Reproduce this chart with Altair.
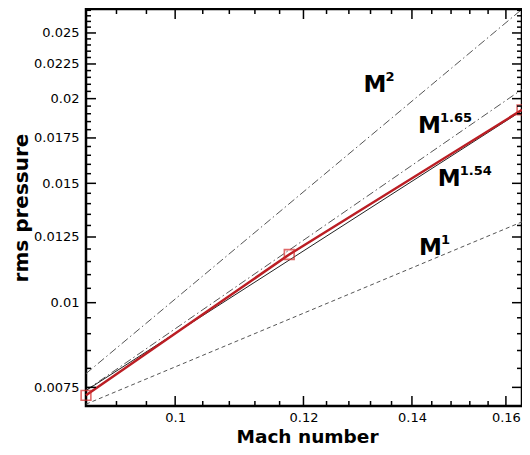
import altair as alt
import pandas as pd

# measured data
mach = [0.0881, 0.1176, 0.1637]
p_rms = [0.0073, 0.01178, 0.01925]

# reference power-law lines (end points)
ref_x = [0.0881, 0.1637]
ref_m2 = [0.00786, 0.0271]
ref_m165 = [0.007425, 0.02064]
ref_m154 = [0.00742, 0.0192]
ref_m1 = [0.007084, 0.01316]

# label anchors
lab_x = [0.1307, 0.1412, 0.14522, 0.1414]
lab_y = [0.02046, 0.01777, 0.014877, 0.011759]
lab_exp = ["2", "1.65", "1.54", "1"]

# ticks
x_major = [0.1, 0.12, 0.14, 0.16]
x_minor = [0.092, 0.096, 0.104, 0.108, 0.112, 0.116, 0.124, 0.128, 0.132, 0.136,
           0.144, 0.148, 0.152, 0.156]
y_major = [0.0075, 0.01, 0.0125, 0.015, 0.0175, 0.02, 0.0225, 0.025]
y_minor = [0.008, 0.0085, 0.009, 0.0095, 0.0105, 0.011, 0.0115, 0.012, 0.013,
           0.0135, 0.014, 0.0145, 0.0155, 0.016, 0.0165, 0.017, 0.018, 0.0185,
           0.019, 0.0195, 0.0205, 0.021, 0.0215, 0.022, 0.023, 0.0235, 0.024,
           0.0245, 0.0255, 0.026, 0.0265, 0.027]

W, H = 436, 397
XDOM = [0.0881, 0.1637]
YDOM = [0.00704, 0.02712]
xs = alt.Scale(type="log", domain=XDOM, nice=False, zero=False)
ys = alt.Scale(type="log", domain=YDOM, nice=False, zero=False)
FONT = "DejaVu Sans"

axX = alt.Axis(values=x_major, format="~g", ticks=False, domain=False,
               grid=False, labelFont=FONT, labelFontSize=13,
               labelColor="black", labelPadding=5,
               title="Mach number", titleFont=FONT, titleFontSize=18.5,
               titleFontWeight="bold", titleColor="black",
               titleX=W / 2 + 3, titleY=36, titleBaseline="alphabetic",
               labelFlush=False)
axY = alt.Axis(values=y_major, format="~g", ticks=False, domain=False,
               grid=False, labelFont=FONT, labelFontSize=13,
               labelColor="black", labelPadding=7,
               title="rms pressure", titleFont=FONT, titleFontSize=20,
               titleFontWeight="bold", titleColor="black",
               titleX=-59, titleY=H / 2, titleBaseline="alphabetic",
               labelFlush=False)


def X(field):
    return alt.X(field, scale=xs, axis=axX)


def Y(field):
    return alt.Y(field, scale=ys, axis=axY)


def ref_line(yvals, color, dash, width=1.0):
    df = pd.DataFrame({"x": ref_x, "y": yvals})
    kw = dict(color=color, strokeWidth=width, clip=True)
    if dash:
        kw["strokeDash"] = dash
    return alt.Chart(df).mark_line(**kw).encode(x=X("x:Q"), y=Y("y:Q"))


main_df = pd.DataFrame({"x": mach, "y": p_rms})
data_line = alt.Chart(main_df).mark_line(color="#bb1e24", strokeWidth=2.5).encode(
    x=X("x:Q"), y=Y("y:Q"))
points = alt.Chart(main_df).mark_point(shape="square", size=95, color="#d42a2a",
                                       strokeWidth=1.6, filled=False).encode(
    x=X("x:Q"), y=Y("y:Q"))

lab_df = pd.DataFrame({"x": lab_x, "y": lab_y, "e": lab_exp})
lab_m = alt.Chart(lab_df).mark_text(text="M", font=FONT, fontWeight="bold",
                                    fontSize=23, align="left",
                                    baseline="alphabetic", color="black").encode(
    x=X("x:Q"), y=Y("y:Q"))
lab_e = alt.Chart(lab_df).mark_text(font=FONT, fontWeight="bold", fontSize=13,
                                    align="left", baseline="alphabetic",
                                    color="black", dx=22, dy=-11).encode(
    x=X("x:Q"), y=Y("y:Q"), text="e:N")


def xticks(vals, length):
    df = pd.DataFrame({"v": vals})
    bot = alt.Chart(df).mark_rule(color="black", strokeWidth=1.5).encode(
        x=X("v:Q"), y=alt.value(H), y2=alt.value(H - length))
    top = alt.Chart(df).mark_rule(color="black", strokeWidth=1.5).encode(
        x=X("v:Q"), y=alt.value(0), y2=alt.value(length))
    return [bot, top]


def yticks(vals, length):
    df = pd.DataFrame({"v": vals})
    left = alt.Chart(df).mark_rule(color="black", strokeWidth=1.5).encode(
        y=Y("v:Q"), x=alt.value(0), x2=alt.value(length))
    right = alt.Chart(df).mark_rule(color="black", strokeWidth=1.5).encode(
        y=Y("v:Q"), x=alt.value(W), x2=alt.value(W - length))
    return [left, right]


layers = [
    ref_line(ref_m2, "#555555", [8, 3, 1.5, 3]),
    ref_line(ref_m165, "#555555", [8, 3, 1.5, 3]),
    ref_line(ref_m1, "#555555", [4, 3]),
    ref_line(ref_m154, "#222222", None, 1.0),
    data_line, points, lab_m, lab_e,
]
layers += xticks(x_major, 10) + xticks(x_minor, 5) + yticks(y_major, 10) + yticks(y_minor, 5)

chart = alt.layer(*layers).properties(
    width=W, height=H,
    background="white",
    autosize=alt.AutoSizeParams(type="none"),
    padding={"left": 78, "top": 1, "right": 0, "bottom": 40},
).configure_view(stroke="black", strokeWidth=2.5)

chart.save("out.html", embed_options={"renderer": "svg", "actions": False})
